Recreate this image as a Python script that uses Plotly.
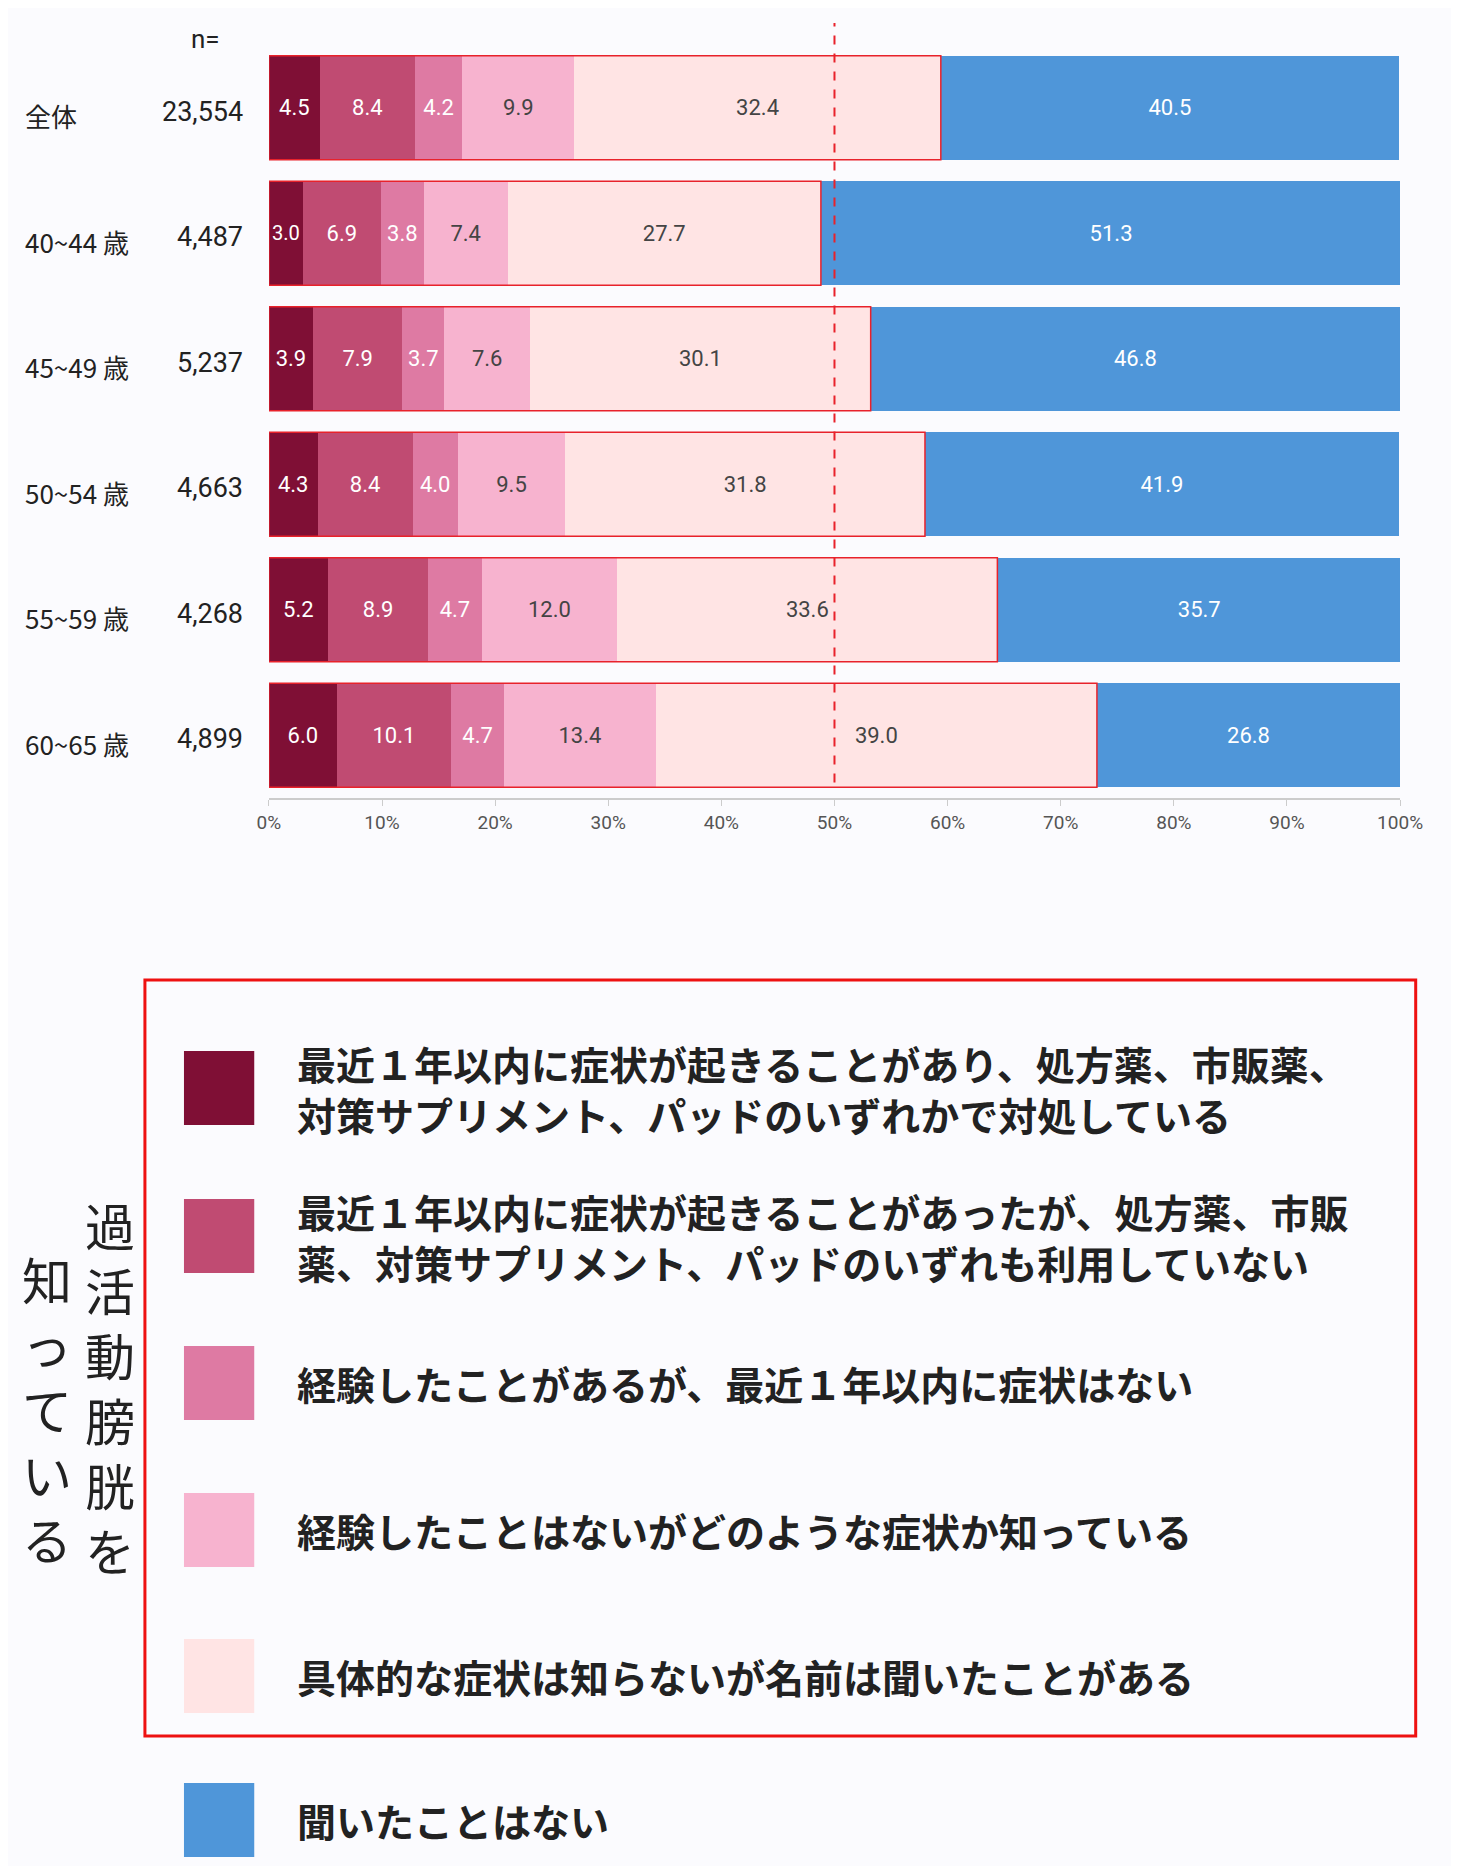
import plotly.graph_objects as go

groups = ['全体', '40~44 歳', '45~49 歳', '50~54 歳', '55~59 歳', '60~65 歳']
n_values = ['23,554', '4,487', '5,237', '4,663', '4,268', '4,899']
series_names = [
    '最近１年以内に症状が起きることがあり、処方薬、市販薬、<br>対策サプリメント、パッドのいずれかで対処している',
    '最近１年以内に症状が起きることがあったが、処方薬、市販<br>薬、対策サプリメント、パッドのいずれも利用していない',
    '経験したことがあるが、最近１年以内に症状はない',
    '経験したことはないがどのような症状か知っている',
    '具体的な症状は知らないが名前は聞いたことがある',
    '聞いたことはない',
]
s1 = [4.5, 3.0, 3.9, 4.3, 5.2, 6.0]
s2 = [8.4, 6.9, 7.9, 8.4, 8.9, 10.1]
s3 = [4.2, 3.8, 3.7, 4.0, 4.7, 4.7]
s4 = [9.9, 7.4, 7.6, 9.5, 12.0, 13.4]
s5 = [32.4, 27.7, 30.1, 31.8, 33.6, 39.0]
s6 = [40.5, 51.3, 46.8, 41.9, 35.7, 26.8]
series = [s1, s2, s3, s4, s5, s6]
tick_labels = ['0%', '10%', '20%', '30%', '40%', '50%', '60%', '70%', '80%', '90%', '100%']

colors = ['#7f0f35', '#c04b72', '#de7aa3', '#f7b3cf', '#ffe4e4', '#4f96d9']
text_colors = ['white', 'white', 'white', '#444444', '#444444', 'white']
bg = '#fbfbfe'
num_font = 'Roboto'

fig = go.Figure()
for vals, name, c, tc in zip(series, series_names, colors, text_colors):
    fig.add_trace(go.Bar(
        y=groups, x=vals, orientation='h', name=name,
        marker=dict(color=c, line=dict(width=0)),
        text=[f'{v:.1f}' for v in vals], textposition='inside',
        insidetextanchor='middle', textangle=0,
        textfont=dict(color=tc, size=22, family=num_font),
        showlegend=False,
    ))

# red outline around "know the term" segments, dashed 50% line
for i, g in enumerate(groups):
    known = s1[i] + s2[i] + s3[i] + s4[i] + s5[i]
    fig.add_shape(type='rect', xref='x', yref='y', x0=0, x1=known,
                  y0=i - 0.415, y1=i + 0.415, line=dict(color='#e8222b', width=1.5))
fig.add_shape(type='line', xref='x', yref='paper', x0=50, x1=50, y0=0.585, y1=0.992,
              line=dict(color='#e8222b', width=2, dash='dash'))

# group labels and n
for i, (g, n) in enumerate(zip(groups, n_values)):
    fig.add_annotation(xref='paper', yref='y', x=0.002, y=i, text=g, xanchor='left',
                       yshift=-8, showarrow=False,
                       font=dict(size=26, color='#222', family='Noto Sans CJK JP'))
    fig.add_annotation(xref='paper', yref='y', x=0.158, y=i, text=n, xanchor='right',
                       yshift=-4, showarrow=False,
                       font=dict(size=27, color='#222', family=num_font))
fig.add_annotation(xref='paper', yref='paper', x=0.13, y=1 - 14 / 1866, text='n=',
                   xanchor='center', showarrow=False,
                   font=dict(size=26, color='#222', family=num_font))

# legend drawn manually
H = 1866.0
W = 1459.0
fig.add_shape(type='rect', xref='paper', yref='paper', x0=128 / W, x1=1430 / W,
              y0=1 - 1728 / H, y1=1 - 972 / H, line=dict(color='#ee1111', width=3))
row_y = [1080, 1228, 1375, 1522, 1668, 1812]
for name, c, ry in zip(series_names, colors, row_y):
    fig.add_shape(type='rect', xref='paper', yref='paper', x0=168 / W, x1=240 / W,
                  y0=1 - (ry + 37) / H, y1=1 - (ry - 37) / H, fillcolor=c, line=dict(width=0))
    fig.add_annotation(xref='paper', yref='paper', x=282 / W, y=1 - ry / H,
                       text='<span style="line-height:1.5"><b>' + name + '</b></span>',
                       xanchor='left', yanchor='middle', align='left', showarrow=False,
                       font=dict(size=39, color='#222', family='Noto Sans CJK JP'))

col1 = '過活動膀胱を'
col2 = '知っている'
fig.add_annotation(xref='paper', yref='paper', x=92 / W, y=1 - 1178 / H, text='<br>'.join(col1),
                   xanchor='center', yanchor='top', showarrow=False,
                   font=dict(size=50, color='#222', family='Noto Sans CJK JP'))
fig.add_annotation(xref='paper', yref='paper', x=28 / W, y=1 - 1232 / H, text='<br>'.join(col2),
                   xanchor='center', yanchor='top', showarrow=False,
                   font=dict(size=50, color='#222', family='Noto Sans CJK JP'))

fig.update_layout(
    width=1459, height=1866, barmode='stack', bargap=0.17,
    paper_bgcolor=bg, plot_bgcolor=bg,
    margin=dict(l=0, r=0, t=0, b=0),
    xaxis=dict(domain=[255 / W, 1414 / W], range=[0, 100], tickvals=list(range(0, 101, 10)),
               ticktext=tick_labels, showgrid=False, zeroline=False, showline=True,
               linecolor='#cccccc', linewidth=2, ticks='outside', tickcolor='#cccccc',
               ticklen=6, tickfont=dict(size=19, color='#555', family=num_font)),
    yaxis=dict(domain=[1 - 790 / H, 1 - 37 / H], autorange='reversed',
               showticklabels=False, showgrid=False, zeroline=False),
)

fig.write_html("out.html")
